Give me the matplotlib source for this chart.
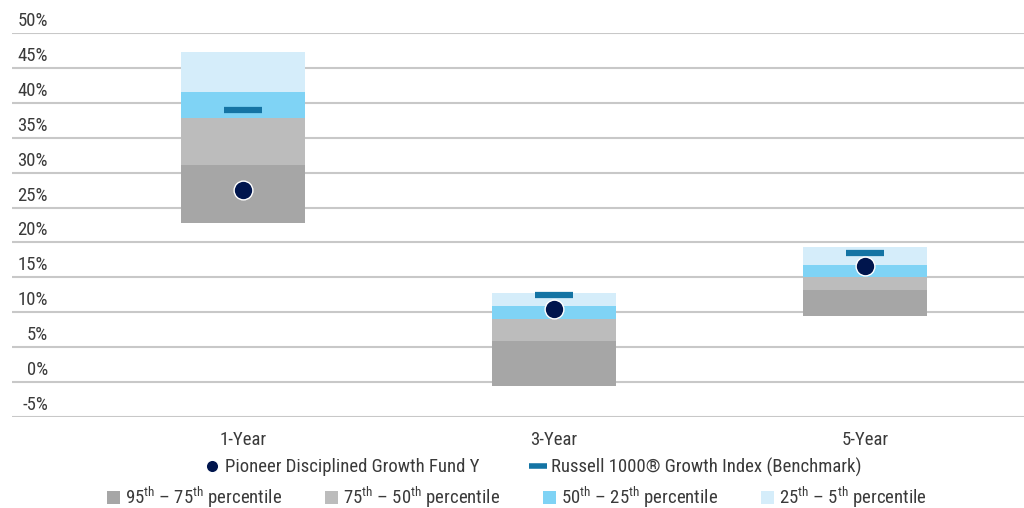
import matplotlib
matplotlib.use("Agg")
import matplotlib.pyplot as plt
from matplotlib import font_manager
from matplotlib.patches import Patch
from matplotlib.lines import Line2D

# pick a narrow font if one is around, else Lato
entries = font_manager.fontManager.ttflist
names = {f.name for f in entries}
font = 'Lato'
for cand in ['Liberation Sans Narrow', 'Roboto Condensed', 'Open Sans Condensed']:
    if cand in names:
        font = cand
        break
else:
    if any(f.name == 'DejaVu Sans' and str(f.stretch) == 'condensed' for f in entries):
        font = 'DejaVu Sans'
        plt.rcParams['font.stretch'] = 'condensed'

plt.rcParams['font.family'] = [font, 'DejaVu Sans']
plt.rcParams['mathtext.fontset'] = 'custom'
plt.rcParams['mathtext.rm'] = font
FS = 13.5 if font != 'Lato' else 12.5

# data (%)
periods = ["1-Year", "3-Year", "5-Year"]
p95 = [22.8, -0.5, 9.5]
p75 = [31.1, 5.9, 13.2]
p50 = [37.8, 9.0, 15.1]
p25 = [41.5, 10.9, 16.7]
p5 = [47.3, 12.8, 19.3]
fund = [27.5, 10.4, 16.6]
bench = [39.0, 12.5, 18.5]
yticks = [-5, 0, 5, 10, 15, 20, 25, 30, 35, 40, 45, 50]

band_labels = [r"95$^{\mathrm{th}}$ – 75$^{\mathrm{th}}$ percentile",
               r"75$^{\mathrm{th}}$ – 50$^{\mathrm{th}}$ percentile",
               r"50$^{\mathrm{th}}$ – 25$^{\mathrm{th}}$ percentile",
               r"25$^{\mathrm{th}}$ – 5$^{\mathrm{th}}$ percentile"]
band_colors = ["#a6a6a6", "#bcbcbc", "#7fd3f5", "#d5edfa"]
fund_color = "#00154d"
bench_color = "#1474a4"
text_color = "#3a3a3a"

fig = plt.figure(figsize=(10.24, 5.08), dpi=100)
ax = fig.add_axes([12/1024, 91/508, 1012/1024, 384/508])

x = list(range(len(periods)))
lows = [p95, p75, p50, p25]
highs = [p75, p50, p25, p5]
for lo, hi, c in zip(lows, highs, band_colors):
    ax.bar(x, [h - l for h, l in zip(hi, lo)], bottom=lo, width=0.4,
           color=c, zorder=2)

ax.plot(x, bench, linestyle='none', marker='_', markersize=27,
        markeredgewidth=4.5, color=bench_color, zorder=3)
ax.plot(x, fund, linestyle='none', marker='o', markersize=13.5,
        markerfacecolor=fund_color, markeredgecolor='white',
        markeredgewidth=1, zorder=4)

ax.set_xlim(-0.743, 2.511)
ax.set_ylim(-5, 50)
ax.set_yticks(yticks)
ax.yaxis.grid(True, color="#c8c8c8", linewidth=1.5, zorder=0)
ax.set_axisbelow(True)
ax.tick_params(left=False, bottom=False, labelleft=False)
for s in ax.spines.values():
    s.set_visible(False)
ax.set_xticks(x)
ax.set_xticklabels(periods, fontsize=FS, color=text_color)
ax.tick_params(axis='x', pad=6.5)

for t in yticks:
    ax.annotate(f"{t}%", xy=(0, t), xycoords=('axes fraction', 'data'),
                xytext=(36, 12), textcoords='offset pixels',
                ha='right', va='center', fontsize=FS, color=text_color)

h1 = [Line2D([], [], linestyle='none', marker='o', markersize=9,
             color=fund_color, markeredgecolor='white'),
      Line2D([], [], linestyle='none', marker='_', markersize=13,
             markeredgewidth=4, color=bench_color)]
fig.legend(h1, ["Pioneer Disciplined Growth Fund Y",
                "Russell 1000® Growth Index (Benchmark)"],
           loc='center', bbox_to_anchor=(532/1024, 1 - 467/508),
           ncol=2, frameon=False, fontsize=FS, handlelength=1.0,
           handletextpad=0.2, columnspacing=2.6, labelcolor=text_color)

h2 = [Patch(facecolor=c, edgecolor='none') for c in band_colors]
fig.legend(h2, band_labels, loc='center',
           bbox_to_anchor=(517/1024, 1 - 497/508), ncol=4, frameon=False,
           fontsize=FS, handlelength=0.7, handleheight=0.7,
           handletextpad=0.25, columnspacing=2.3, labelcolor=text_color)

fig.savefig("out.png", dpi=100)
